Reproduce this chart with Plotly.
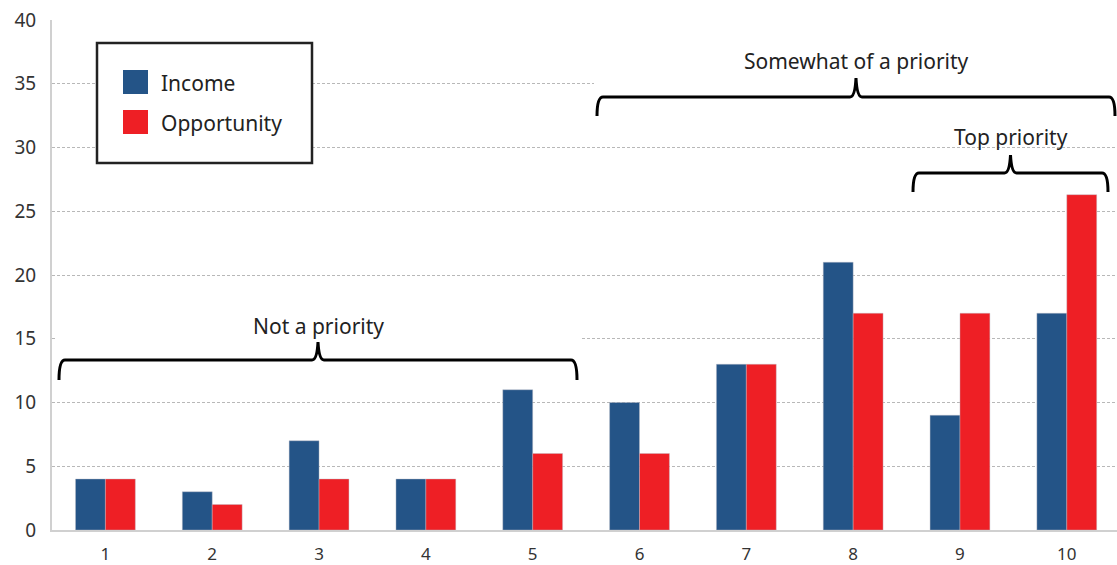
import plotly.graph_objects as go

categories = [1, 2, 3, 4, 5, 6, 7, 8, 9, 10]
income = [4, 3, 7, 4, 11, 10, 13, 21, 9, 17]
opportunity = [4, 2, 4, 4, 6, 6, 13, 17, 17, 26.3]
series_names = ["Income", "Opportunity"]
colors = ["#245487", "#ee1f25"]
y_ticks = [0, 5, 10, 15, 20, 25, 30, 35, 40]

FONT = "Noto Sans"
W, H = 1117, 565
L, R, T, B = 52, 0, 20, 35
XR = [0.5, 10.47]
YR = [0, 40]

def px2x(px):
    return XR[0] + (px - L) / (W - L - R) * (XR[1] - XR[0])

def py2y(py):
    return YR[1] - (py - T) / (H - T - B) * (YR[1] - YR[0])

fig = go.Figure()
for name, vals, c in zip(series_names, [income, opportunity], colors):
    fig.add_trace(go.Bar(x=categories, y=vals, name=name, marker_color=c,
                         marker_line=dict(color="rgba(190,190,200,0.7)", width=0.6),
                         showlegend=False))

shapes = []
annotations = []

def brace(x1, x2, yh, ye, yt, label, ly, cover=None):
    xm = (x1 + x2) / 2
    r = 6
    pts = [
        ("M", [(x1, ye)]),
        ("Q", [(x1, yh), (x1 + r, yh)]),
        ("L", [(xm - r, yh)]),
        ("Q", [(xm - 1, yh), (xm, yt)]),
        ("Q", [(xm + 1, yh), (xm + r, yh)]),
        ("L", [(x2 - r, yh)]),
        ("Q", [(x2, yh), (x2, ye)]),
    ]
    path = " ".join(cmd + " " + " ".join(f"{px2x(a):.4f},{py2y(b):.4f}" for a, b in p) for cmd, p in pts)
    if cover:
        shapes.append(dict(type="rect", xref="x", yref="y", x0=px2x(x1 - 3), x1=px2x(x2 + 3),
                           y0=py2y(cover[1]), y1=py2y(cover[0]), fillcolor="white",
                           line=dict(width=0), layer="between"))
    shapes.append(dict(type="path", xref="x", yref="y", path=path,
                       line=dict(color="black", width=3), layer="above"))
    annotations.append(dict(x=px2x(xm), y=py2y(ly), xref="x", yref="y", text=label,
                            showarrow=False, font=dict(family=FONT, size=21, color="#222"),
                            xanchor="center", yanchor="middle"))

brace(59, 577, 360, 380, 342, "Not a priority", 326, (305, 385))
brace(597, 1115, 97, 116, 78, "Somewhat of a priority", 61, (40, 120))
brace(913, 1108, 173, 192, 155, "Top priority", 137)

# legend box
shapes.append(dict(type="rect", xref="x", yref="y", x0=px2x(97), x1=px2x(312),
                   y0=py2y(163), y1=py2y(43), fillcolor="white",
                   line=dict(color="#222", width=2.5), layer="above"))
for i, (name, c) in enumerate(zip(series_names, colors)):
    top = 70 + i * 40
    shapes.append(dict(type="rect", xref="x", yref="y", x0=px2x(123), x1=px2x(148),
                       y0=py2y(top + 24), y1=py2y(top), fillcolor=c,
                       line=dict(width=0), layer="above"))
    annotations.append(dict(x=px2x(159), y=py2y(top + 13), xref="x", yref="y", text=name,
                            showarrow=False, font=dict(family=FONT, size=21, color="#222"),
                            xanchor="left", yanchor="middle"))

fig.update_layout(
    width=W, height=H,
    margin=dict(l=L, r=R, t=T, b=B, autoexpand=False),
    paper_bgcolor="white", plot_bgcolor="white",
    barmode="group", bargap=0.44, bargroupgap=0,
    shapes=shapes, annotations=annotations,
    font=dict(family=FONT, color="#333"),
)
fig.update_xaxes(range=XR, tickvals=categories, ticktext=[str(c) for c in categories],
                 showgrid=False, showline=True, linecolor="#d0d0d0", linewidth=2,
                 ticks="", tickfont=dict(size=17, color="#333"), ticklabelstandoff=8,
                 automargin=False)
fig.update_yaxes(range=YR, tickvals=y_ticks, showgrid=True, gridcolor="#b8b8b8",
                 griddash="3px,2px", gridwidth=1, showline=True, linecolor="#d0d0d0",
                 linewidth=2, ticks="", zeroline=False,
                 tickfont=dict(size=19, color="#333"), ticklabelstandoff=10,
                 automargin=False)

fig.write_html("out.html", config={"displayModeBar": False},
               post_script="document.body.style.margin='0';document.body.style.overflow='hidden';")
